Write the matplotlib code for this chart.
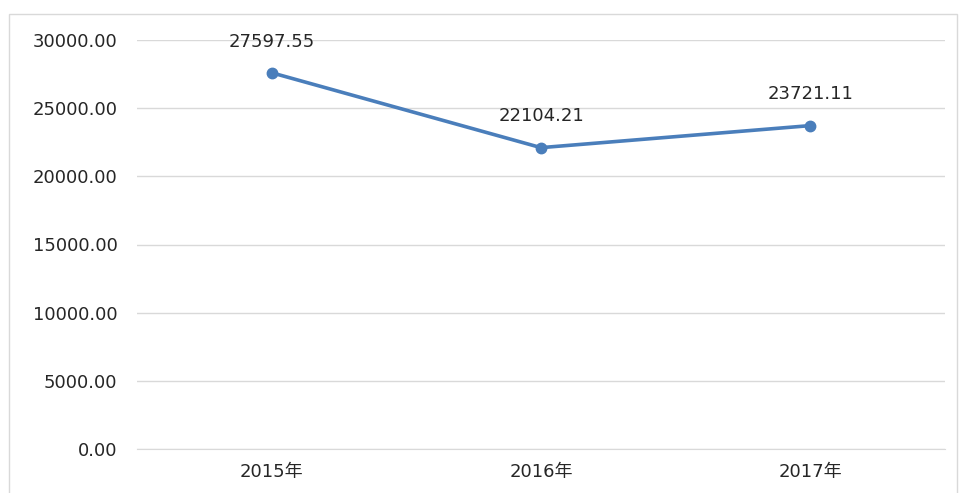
import matplotlib
matplotlib.use("Agg")
import matplotlib.pyplot as plt
from matplotlib.patches import Rectangle

plt.rcParams["font.family"] = ["DejaVu Sans", "Noto Sans CJK SC"]

years = ["2015年", "2016年", "2017年"]
values = [27597.55, 22104.21, 23721.11]
y_ticks = [0, 5000, 10000, 15000, 20000, 25000, 30000]

line_color = "#4a7ebb"

fig = plt.figure(figsize=(9.6, 4.93), dpi=100)
ax = fig.add_axes([137 / 960, 1 - 449 / 493, 808 / 960, 409 / 493])

x = list(range(len(years)))
ax.plot(x, values, color=line_color, linewidth=2.6, marker="o", markersize=7.5,
        solid_capstyle="round")

for xi, v in zip(x, values):
    ax.annotate(f"{v:.2f}", (xi, v), xytext=(0, 16), textcoords="offset points",
                ha="center", va="bottom", fontsize=13, color="#262626")

ax.set_xlim(-0.5, len(years) - 0.5)
ax.set_ylim(0, 30000)
ax.set_yticks(y_ticks)
ax.set_yticklabels([f"{t:.2f}" for t in y_ticks])
ax.set_xticks(x)
ax.set_xticklabels(years)
ax.tick_params(axis="both", length=0, labelsize=13, labelcolor="#262626")
ax.tick_params(axis="y", pad=14)
ax.tick_params(axis="x", pad=10)

ax.grid(axis="y", color="#d9d9d9", linewidth=1)
ax.set_axisbelow(True)
for side in ["top", "right", "left"]:
    ax.spines[side].set_visible(False)
ax.spines["bottom"].set_color("#d9d9d9")

# outer chart border
fig.patches.append(Rectangle((9 / 960, -0.05), 948 / 960, 1 - 14 / 493 + 0.05,
                             transform=fig.transFigure, fill=False,
                             edgecolor="#d9d9d9", linewidth=1))

fig.savefig("out.png", dpi=100)
